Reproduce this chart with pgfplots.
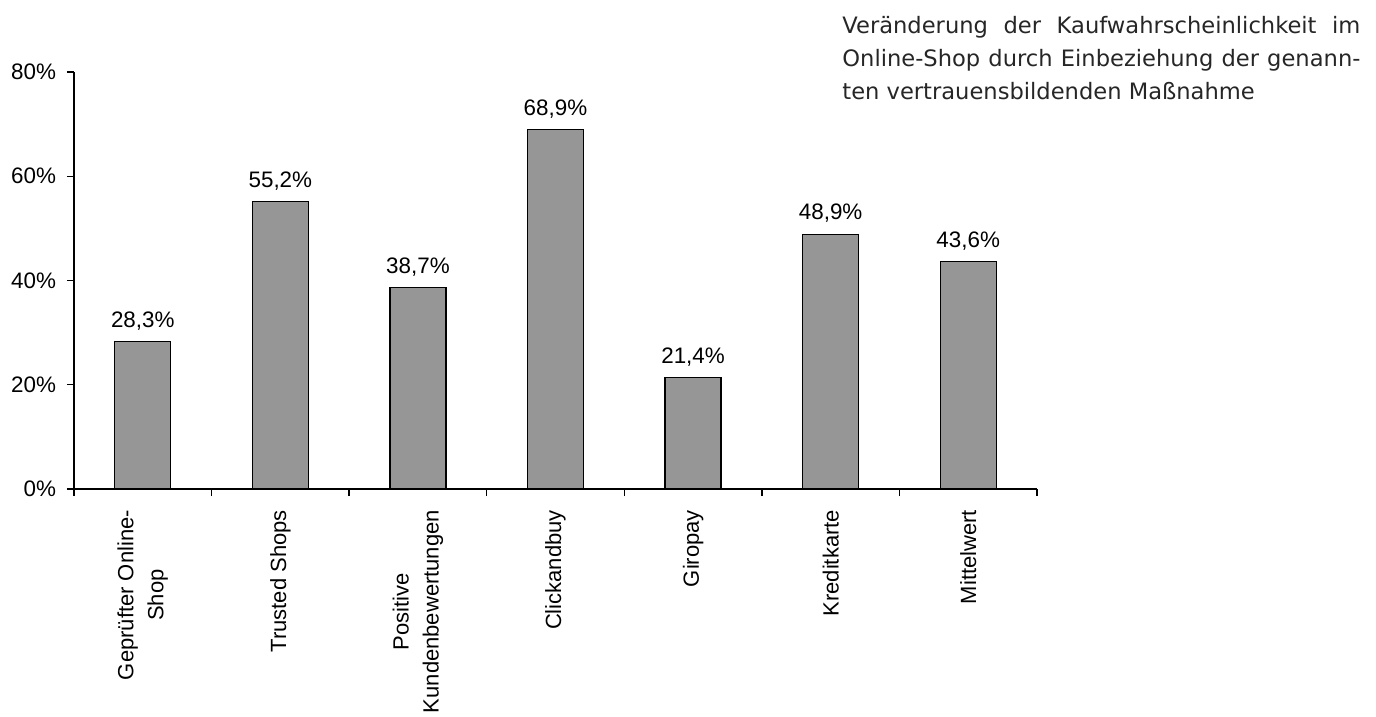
\documentclass[border=0pt]{standalone}
\usepackage{fontspec}
\setmainfont{Liberation Sans}
\newfontfamily\titlefont{DejaVu Sans}
\usepackage{pgfplots}
\pgfplotsset{compat=1.18}
\definecolor{barfill}{RGB}{150,150,150}
\begin{document}
\begin{tikzpicture}[x=1pt,y=1pt]
\useasboundingbox (-37,-114) rectangle (651,244.5);
\begin{axis}[
  at={(0,0)}, anchor=south west,
  scale only axis, width=481.5pt, height=208.5pt,
  xmin=-0.5, xmax=6.5, ymin=0, ymax=80,
  axis x line*=bottom, axis y line*=left,
  axis line style={-, line width=0.7pt},
  /pgf/number format/assume math mode=true,
  ybar, bar width=28pt,
  xtick={0,...,6},
  xticklabels={{Geprüfter Online-\\Shop}, Trusted Shops, {Positive\\Kundenbewertungen}, Clickandbuy, Giropay, Kreditkarte, Mittelwert},
  major x tick style={draw=none},
  minor xtick={-0.5,0.5,...,6.5},
  tick align=outside,
  major tick length=3.5pt, minor tick length=3.5pt,
  tick style={black, line width=0.7pt},
  ytick={0,20,40,60,80},
  yticklabel={\pgfmathprintnumber{\tick}\%},
  yticklabel style={font=\fontsize{11.2}{13}\selectfont, xshift=-2pt},
  xticklabel shift=3.5pt,
  xticklabel style={rotate=90, anchor=east, align=center, font=\fontsize{11}{15}\selectfont},
  nodes near coords={\pgfmathprintnumber[fixed,fixed zerofill,precision=1,use comma]{\pgfplotspointmeta}\%},
  every node near coord/.append style={font=\fontsize{11.2}{13}\selectfont, black, yshift=2pt},
  clip=false,
]
\addplot[fill=barfill, draw=black, line width=0.6pt] coordinates {
  (0,28.3) (1,55.2) (2,38.7) (3,68.9) (4,21.4) (5,48.9) (6,43.6)
};
\end{axis}
\node[anchor=north west, inner sep=0pt, text width=259pt, align=justify,
      font=\titlefont\fontsize{11.3}{16.5}\selectfont, text=black!85]
  at (384,236.5)
  {Veränderung der Kaufwahrscheinlichkeit im\linebreak Online-Shop durch Einbeziehung der genann-\linebreak ten vertrauensbildenden Maßnahme};
\end{tikzpicture}
\end{document}
